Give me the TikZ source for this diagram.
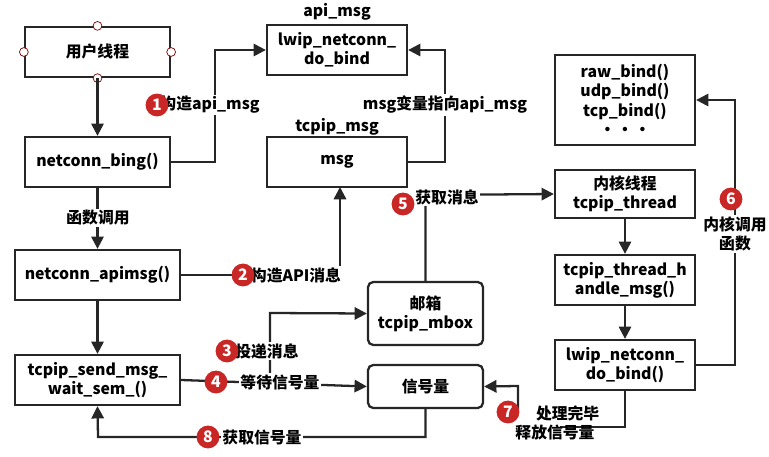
\documentclass[tikz,border=0pt]{standalone}
\usepackage{fontspec}
\setmainfont{Noto Sans CJK SC}
\usetikzlibrary{arrows.meta}
\begin{document}
\begin{tikzpicture}[x=0.02cm,y=-0.02cm,
  box/.style={draw=black!85,line width=1.3pt,align=center,font=\bfseries\small,inner sep=1pt},
  rbox/.style={box,rounded corners=3pt},
  ln/.style={draw=black!85,line width=1.3pt},
  ar/.style={ln,-{Triangle[length=7pt,width=7pt]}},
  lab/.style={fill=white,font=\bfseries\small,inner sep=1pt,align=center},
  num/.style={circle,fill=red!75!black!85,text=white,font=\bfseries\small,inner sep=0pt,minimum size=13pt},
  port/.style={circle,draw=red!50!black,fill=white,inner sep=0pt,minimum size=5pt}]
\useasboundingbox (0,0) rectangle (769,457);
\node[box,minimum width=145*0.02cm,minimum height=50*0.02cm] (user) at (97.5,52) {用户线程};
\foreach \a in {north,south,east,west} \node[port] at (user.\a) {};
\node[box,minimum width=140*0.02cm,minimum height=50*0.02cm] (api) at (337,50) {lwip\_netconn\_\\do\_bind};
\node[font=\bfseries\small] (apil) at (337,12) {api\_msg};
\node[box,minimum width=145*0.02cm,minimum height=50*0.02cm] (bing) at (97.5,162) {netconn\_bing()};
\node[box,minimum width=140*0.02cm,minimum height=50*0.02cm] (msg) at (337,162) {msg};
\node[font=\bfseries\small] (msgl) at (337,127) {tcpip\_msg};
\node[box,minimum width=165*0.02cm,minimum height=50*0.02cm] (apimsg) at (97.5,275) {netconn\_apimsg()};
\node[rbox,minimum width=115*0.02cm,minimum height=63*0.02cm] (mbox) at (425.5,313.5) {邮箱\\tcpip\_mbox};
\node[box,minimum width=165*0.02cm,minimum height=50*0.02cm] (send) at (97.5,380) {tcpip\_send\_msg\_\\wait\_sem\_()};
\node[rbox,minimum width=115*0.02cm,minimum height=43*0.02cm] (sem) at (425.5,386.5) {信号量};
\node[box,minimum width=140*0.02cm,minimum height=90*0.02cm] (raw) at (625,100) {raw\_bind()\\udp\_bind()\\tcp\_bind()\\\textbullet\kern1pt\textbullet\kern1pt\textbullet};
\node[box,minimum width=140*0.02cm,minimum height=48*0.02cm] (kt) at (625,194) {内核线程\\tcpip\_thread};
\node[box,minimum width=140*0.02cm,minimum height=50*0.02cm] (hm) at (625,280) {tcpip\_thread\_h\\andle\_msg()};
\node[box,minimum width=140*0.02cm,minimum height=50*0.02cm] (db) at (625,365) {lwip\_netconn\_\\do\_bind()};
\coordinate (c1) at (215,162); \coordinate (c2) at (215,50);
\draw[ar] (user) -- (bing);
\draw[ar] (bing.east) -- (c1) -- (c2) -- (api.west);
\node[lab] (l1) at (210,105) {构造api\_msg};
\node[num] at (157,105) {1};
\draw[ar] (msg.east) -- (445,162) -- (445,50) -- (api.east);
\node[lab] (l1b) at (445,105) {msg变量指向api\_msg};
\draw[ar] (bing) -- (apimsg);
\node[lab] at (98,218) {函数调用};
\draw[ar] (apimsg.east) -- (340,275) -- (340,187);
\node[lab] at (296,275) {构造API消息};
\node[num] at (243,275) {2};
\draw[ar] (apimsg) -- (send);
\draw[ar] (270,380) -- (270,313) -- (mbox.west);
\draw[ar] (send.east) -- (sem.west);
\node[lab] at (267,351) {投递消息};
\node[num] at (227,351) {3};
\node[lab] at (280,382) {等待信号量};
\node[num] at (216,382) {4};
\draw[ar] (mbox.north) -- (425.5,195) -- (kt.west);
\node[lab] at (447,197) {获取消息};
\node[num] at (403,204) {5};
\draw[ar] (kt) -- (hm);
\draw[ar] (hm) -- (db);
\draw[ar] (db.east) -- (735,365) -- (735,100) -- (raw.east);
\node[lab] at (735,234) {内核调用\\函数};
\node[num] at (731,199) {6};
\draw[ln] (db.south) -- (625,427) -- (560,427);
\draw[ar] (518,410) -- (518,386) -- (sem.east);
\node[lab,fill=none] at (555,423) {\hspace*{1.6em}处理完毕\\释放信号量};
\node[num] at (508,412) {7};
\draw[ar] (sem.south) -- (425.5,437) -- (98,437) -- (send.south);
\node[lab] at (262,437) {获取信号量};
\node[num] at (208,437) {8};
\end{tikzpicture}
\end{document}
